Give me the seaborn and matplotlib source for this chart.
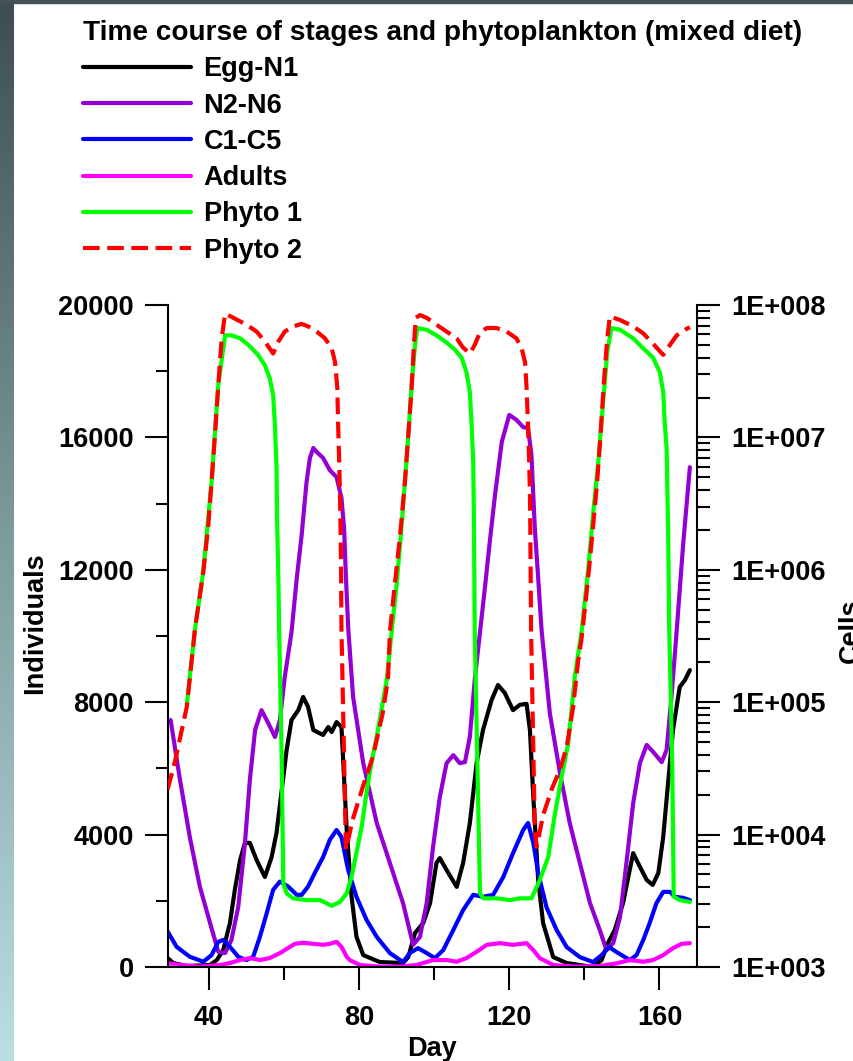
import numpy as np
import matplotlib
matplotlib.use("Agg")
import matplotlib.pyplot as plt
import seaborn as sns
from matplotlib.ticker import MultipleLocator, LogLocator, FuncFormatter, NullFormatter
from matplotlib.colors import LinearSegmentedColormap
from matplotlib.patches import Rectangle

# --- data (day, value) ---
egg_day = [29.0, 30.5, 34.1, 40.3, 42.1, 43.8, 45.6, 46.9, 48.3, 49.6, 50.9, 52.7, 54.9, 56.7, 58.0,
           59.4, 60.7, 62.0, 63.8, 65.1, 66.4, 67.8, 70.4, 71.8, 72.7, 74.0, 75.3, 75.8, 76.7, 78.0,
           79.3, 81.1, 85.5, 91.7, 93.1, 94.9, 97.1, 98.9, 100.6, 101.5, 103.3, 106.0, 107.7, 109.5,
           111.3, 113.0, 115.3, 117.0, 118.8, 121.0, 122.8, 124.6, 125.5, 126.4, 127.7, 129.0, 131.7,
           135.3, 142.3, 144.6, 146.3, 148.1, 150.3, 151.7, 153.0, 154.3, 156.6, 158.2, 159.7, 161.0,
           162.3, 163.6, 165.4, 166.8, 168.1]
egg_n1 = [270, 120, 30, 60, 210, 510, 1330, 2330, 3230, 3750, 3750, 3230, 2720, 3320, 4050,
          5350, 6560, 7460, 7760, 8160, 7860, 7160, 7010, 7250, 7100, 7400, 7250, 6160, 4140, 2120,
          910, 360, 150, 120, 300, 1030, 1330, 1930, 3140, 3290, 2930, 2420, 3140, 4350,
          6160, 7160, 8070, 8520, 8280, 7760, 7920, 7950, 7160, 5140, 2630, 1330, 300,
          120, 0, 210, 730, 1120, 1930, 2720, 3440, 3140, 2630, 2480, 2840, 3930,
          5560, 7160, 8460, 8670, 8970]

naup_day = [29.8, 32.3, 34.9, 37.6, 40.3, 42.5, 44.3, 46.0, 47.8, 49.6, 50.9, 52.3, 54.0, 55.8, 57.6,
            58.9, 60.2, 62.0, 63.4, 64.7, 66.0, 66.9, 67.8, 68.7, 70.4, 72.2, 74.0, 75.3, 76.0, 76.5,
            77.1, 78.4, 81.1, 84.7, 88.2, 91.7, 94.4, 96.2, 98.0, 99.7, 101.5, 103.3, 105.1, 106.8,
            108.2, 109.5, 110.8, 112.2, 113.5, 114.8, 116.2, 118.0, 120.0, 121.9, 123.7, 125.0, 125.9,
            126.8, 127.7, 128.6, 130.8, 133.5, 136.1, 138.8, 141.5, 144.1, 145.9, 147.7, 149.5, 151.2,
            153.0, 154.8, 156.6, 158.3, 160.6, 161.9, 163.2, 164.6, 166.3, 168.1]
n2_n6 = [7460, 5650, 3930, 2420, 1330, 460, 420, 820, 1810, 3750, 5650, 7160, 7760, 7370, 6950,
         7460, 8760, 10120, 11750, 13050, 14650, 15380, 15680, 15560, 15380, 15010, 14800, 14170, 13260, 11750,
         10240, 8160, 6160, 4350, 3140, 1930, 670, 910, 1930, 3630, 5140, 6160, 6400, 6160,
         6190, 6950, 8670, 10120, 11450, 12840, 14260, 15860, 16680, 16530, 16310, 16280, 15470,
         13260, 11750, 10180, 7670, 5860, 4350, 3140, 1930, 1120, 510, 730, 1510, 3140,
         4950, 6160, 6710, 6500, 6190, 6560, 8160, 10180, 12750, 15100]

cop_day = [29.0, 31.4, 34.9, 38.5, 40.7, 42.5, 43.8, 45.6, 47.8, 50.0, 51.8, 53.6, 55.4, 57.1, 58.9,
           61.1, 63.4, 64.7, 66.4, 68.2, 70.4, 72.2, 74.0, 75.3, 76.7, 77.1, 79.3, 82.0, 84.7, 88.2,
           91.7, 93.5, 95.7, 98.0, 100.2, 102.4, 105.1, 107.7, 110.4, 113.0, 115.7, 118.4, 121.0, 123.7,
           125.0, 126.4, 127.7, 129.9, 132.6, 135.3, 138.8, 142.3, 144.6, 146.6, 148.6, 152.1, 153.9,
           155.7, 157.4, 159.2, 161.0, 162.8, 164.1, 166.3, 168.1]
c1_c5 = [1070, 610, 310, 160, 360, 760, 820, 610, 310, 210, 310, 920, 1630, 2330, 2580,
         2430, 2180, 2180, 2430, 2840, 3320, 3840, 4140, 3930, 3140, 2930, 2120, 1420, 910, 420,
         150, 420, 570, 420, 270, 510, 1120, 1720, 2180, 2120, 2180, 2720, 3440, 4140,
         4350, 3750, 2840, 1810, 1120, 600, 300, 150, 360, 600, 450, 210, 360,
         820, 1330, 1930, 2270, 2270, 2120, 2090, 2020]

adult_day = [29.0, 32.3, 37.6, 42.9, 45.6, 48.3, 50.9, 53.6, 56.2, 58.9, 61.6, 62.9, 65.1, 67.8, 70.4,
             72.2, 74.0, 75.3, 76.7, 77.5, 80.2, 85.5, 90.9, 95.3, 99.7, 103.3, 106.0, 108.6, 111.3,
             114.0, 117.5, 121.0, 124.6, 126.4, 128.1, 131.7, 137.9, 144.1, 148.6, 152.1, 155.7, 158.3,
             161.0, 163.6, 165.9, 168.1]
adults = [120, 60, 10, 60, 120, 210, 270, 210, 270, 420, 610, 700, 730, 700, 670,
          700, 760, 610, 310, 210, 60, 10, 10, 60, 210, 210, 160, 270, 460,
          670, 720, 670, 720, 510, 270, 60, 10, 30, 110, 210, 160, 210,
          360, 570, 700, 720]

phyto1_day = [34.1, 36.3, 38.5, 40.7, 42.5, 44.3, 46.0, 48.3, 50.5, 53.1, 54.9, 56.2, 57.1, 57.6, 58.0,
              58.2, 58.5, 58.7, 59.4, 59.8, 60.7, 62.4, 66.0, 69.6, 72.7, 74.9, 76.7, 78.0, 79.3, 80.7,
              82.0, 83.3, 84.7, 86.3, 87.4, 88.7, 90.0, 91.3, 92.2, 93.1, 94.0, 94.9, 95.5, 98.0, 100.6,
              103.3, 105.5, 107.3, 108.6, 109.5, 110.0, 110.4, 110.6, 110.8, 111.5, 112.2, 113.1, 116.6,
              120.2, 122.8, 125.9, 128.1, 130.4, 132.1, 133.9, 135.7, 137.5, 139.3, 141.0, 142.3, 143.7,
              145.0, 146.1, 147.2, 149.5, 153.0, 155.7, 158.3, 160.1, 161.0, 161.4, 161.9, 162.3, 162.6,
              163.4, 163.8, 165.4, 168.1]
phyto1 = [9.5e4, 3.6e5, 9.7e5, 4.6e6, 2.5e7, 5.9e7, 5.9e7, 5.6e7, 5.0e7, 4.2e7, 3.5e7, 2.8e7, 2.1e7, 1.2e7, 5.9e6,
          2.1e6, 8.7e5, 3.6e5, 3.5e4, 4.3e3, 3.6e3, 3.3e3, 3.2e3, 3.2e3, 2.9e3, 3.1e3, 3.6e3, 4.8e3, 7.3e3, 1.15e4,
          2.1e4, 3.5e4, 5.5e4, 9.9e4, 1.5e5, 3.5e5, 7.7e5, 2.1e6, 4.6e6, 1.04e7, 2.5e7, 5.0e7, 6.7e7, 6.5e7, 5.9e7,
          5.2e7, 4.6e7, 4.0e7, 3.1e7, 2.2e7, 1.2e7, 6.5e6, 2.1e6, 3.4e5, 3.5e4, 3.6e3, 3.3e3, 3.3e3,
          3.2e3, 3.3e3, 3.3e3, 4.5e3, 6.8e3, 1.4e4, 2.7e4, 4.9e4, 1.6e5, 3.5e5, 1.0e6, 2.6e6, 6.5e6,
          1.85e7, 4.4e7, 6.7e7, 6.5e7, 5.6e7, 4.7e7, 4.0e7, 3.1e7, 2.2e7, 1.3e7, 8.3e6, 2.1e6, 3.6e5,
          3.5e4, 3.4e3, 3.2e3, 3.1e3]

phyto2_day = [29.0, 30.9, 34.1, 36.3, 38.5, 39.8, 40.7, 41.6, 42.5, 43.4, 44.3, 46.9, 50.0, 52.7, 54.9,
              57.1, 58.5, 60.2, 62.5, 64.7, 66.4, 68.7, 70.9, 72.7, 73.6, 74.2, 74.4, 74.7, 74.9, 75.1,
              75.2, 75.3, 76.5, 78.3, 81.0, 83.7, 86.3, 87.7, 88.2, 89.5, 90.9, 92.2, 93.1, 94.0, 94.6,
              95.1, 96.2, 98.0, 100.6, 103.3, 106.0, 107.6, 109.5, 110.8, 112.2, 114.0, 116.6, 119.3, 121.9,
              123.3, 124.2, 124.6, 125.0, 125.3, 125.5, 125.6, 125.7, 125.8, 126.8, 127.3, 129.0, 131.3,
              133.5, 135.3, 137.0, 138.3, 139.3, 141.0, 142.3, 143.4, 144.3, 145.2, 146.1, 146.8, 149.5,
              153.0, 155.7, 158.3, 161.0, 162.8, 164.6, 166.8, 168.1]
phyto2 = [2.2e4, 3.5e4, 9.2e4, 3.6e5, 9.7e5, 2.1e6, 4.6e6, 1.04e7, 2.5e7, 5.6e7, 8.6e7, 7.9e7, 7.1e7, 6.3e7, 5.3e7,
          4.3e7, 5.3e7, 6.3e7, 6.9e7, 7.2e7, 6.9e7, 6.3e7, 5.6e7, 4.7e7, 3.7e7, 2.35e7, 1.3e7, 6.5e6, 3.7e6, 1.8e6,
          9.1e5, 3.6e5, 7.7e3, 1.3e4, 2.3e4, 3.9e4, 8.3e4, 1.5e5, 3.4e5, 7.7e5, 1.8e6, 4.6e6, 1.04e7, 2.4e7, 5.0e7,
          8.0e7, 8.4e7, 8.0e7, 7.1e7, 6.3e7, 5.6e7, 4.8e7, 4.3e7, 5.0e7, 6.2e7, 6.7e7, 6.7e7, 6.3e7, 5.6e7,
          4.7e7, 3.7e7, 2.4e7, 1.2e7, 6.5e6, 3.7e6, 2.1e6, 8.7e5, 3.6e5, 1.1e4, 8.1e3, 1.4e4, 2.2e4,
          3.1e4, 4.6e4, 9.2e4, 2.0e5, 3.1e5, 8.6e5, 2.1e6, 4.6e6, 1.04e7, 2.6e7, 5.6e7, 8.2e7, 7.7e7,
          6.9e7, 6.1e7, 5.1e7, 4.2e7, 5.0e7, 5.9e7, 6.5e7, 6.8e7]

left_ticks = [0, 4000, 8000, 12000, 16000, 20000]
day_ticks = [40, 80, 120, 160]

# --- style ---
sns.set_style("ticks")
plt.rcParams['font.family'] = ['Liberation Sans', 'DejaVu Sans']
plt.rcParams['font.weight'] = 'bold'
plt.rcParams['axes.labelweight'] = 'bold'
plt.rcParams['text.color'] = 'black'
plt.rcParams['axes.labelcolor'] = 'black'
plt.rcParams['legend.labelcolor'] = 'black'
FS = 19.5
LW = 3.0

fig = plt.figure(figsize=(8.54, 10.61), dpi=100)
fig.patch.set_facecolor('white')

# left gradient strip and top band of the slide background
strip = fig.add_axes([0, 0, 14 / 854, 1], zorder=-5)
cmap = LinearSegmentedColormap.from_list('bg', ['#3d4e52', '#7d9a9c', '#b9dfe4'])
strip.imshow(np.linspace(0, 1, 256).reshape(-1, 1), aspect='auto', cmap=cmap)
strip.axis('off')
fig.patches.append(Rectangle((0, 1 - 3 / 1061), 1, 3 / 1061, transform=fig.transFigure,
                             color='#425256', zorder=-5))

ax = fig.add_axes([168 / 854, 1 - 967 / 1061, (697 - 168) / 854, (967 - 305) / 1061])
ax2 = ax.twinx()
ax2.set_yscale('log')

stages = [(egg_day, egg_n1, 'black', 'Egg-N1'),
          (naup_day, n2_n6, '#9400D3', 'N2-N6'),
          (cop_day, c1_c5, '#0000FF', 'C1-C5'),
          (adult_day, adults, '#FF00FF', 'Adults')]
for d, v, c, lab in stages:
    sns.lineplot(x=d, y=v, ax=ax, color=c, lw=LW, label=lab, legend=False,
                 estimator=None, sort=False)

sns.lineplot(x=phyto1_day, y=phyto1, ax=ax2, color='#00FF00', lw=LW, label='Phyto 1',
             legend=False, estimator=None, sort=False)
sns.lineplot(x=phyto2_day, y=phyto2, ax=ax2, color='#FF0000', lw=LW, label='Phyto 2',
             legend=False, estimator=None, sort=False, linestyle=(0, (4, 1.8)))

for a in (ax, ax2):
    if a.get_legend() is not None:
        a.get_legend().remove()

# axes ranges and ticks
ax.set_xlim(29.1, 170.0)
ax.set_ylim(0, 20000)
ax2.set_ylim(1e3, 1e8)
ax.set_yticks(left_ticks)
ax.yaxis.set_minor_locator(MultipleLocator(2000))
ax.set_xticks(day_ticks)
ax.xaxis.set_minor_locator(MultipleLocator(20))
ax2.yaxis.set_major_locator(LogLocator(base=10))
ax2.yaxis.set_minor_locator(LogLocator(base=10, subs=np.arange(2, 10)))
ax2.yaxis.set_major_formatter(FuncFormatter(lambda v, p: f"1E+{int(round(np.log10(v))):03d}"))
ax2.yaxis.set_minor_formatter(NullFormatter())

ax.tick_params(axis='both', which='major', direction='out', length=16.5, width=1.5,
               color='black', labelsize=FS, labelcolor='black')
ax.tick_params(axis='both', which='minor', direction='out', length=9, width=1.5, color='black')
ax.tick_params(axis='y', which='major', pad=8)
ax.tick_params(axis='x', which='major', pad=11)
ax2.tick_params(axis='y', which='major', direction='out', length=16.5, width=1.5,
                color='black', labelsize=FS, labelcolor='black', pad=8.5)
ax2.tick_params(axis='y', which='minor', direction='out', length=9, width=1.5, color='black')

for s in ('top', 'right'):
    ax.spines[s].set_visible(False)
for s in ('top', 'left', 'bottom'):
    ax2.spines[s].set_visible(False)
for sp in list(ax.spines.values()) + list(ax2.spines.values()):
    sp.set_linewidth(1.5)
    sp.set_color('black')
ax.grid(False)
ax2.grid(False)

ax.set_xlabel('Day', fontsize=FS, fontweight='bold', color='black')
ax.xaxis.set_label_coords(0.5, -0.104)
ax.set_ylabel('Individuals', fontsize=FS, fontweight='bold', color='black')
ax.yaxis.set_label_coords(-0.227, 0.52)
ax2.set_ylabel('Cells', fontsize=FS, fontweight='bold', color='black')
ax2.yaxis.set_label_coords(1.2665, 0.5076)

handles = ax.get_lines() + ax2.get_lines()
labels = [h.get_label() for h in handles]
leg = fig.legend(handles, labels, loc='upper left', bbox_to_anchor=(83 / 854, 1 - 20 / 1061),
                 frameon=False, title='Time course of stages and phytoplankton (mixed diet)',
                 alignment='left', prop={'size': FS, 'weight': 'bold'},
                 title_fontproperties={'size': 20.2, 'weight': 'bold'},
                 handlelength=4.0, handletextpad=0.45, labelspacing=0.38,
                 borderpad=0, borderaxespad=0, labelcolor='black')
leg.get_title().set_color('black')

fig.savefig('out.png', dpi=100)
